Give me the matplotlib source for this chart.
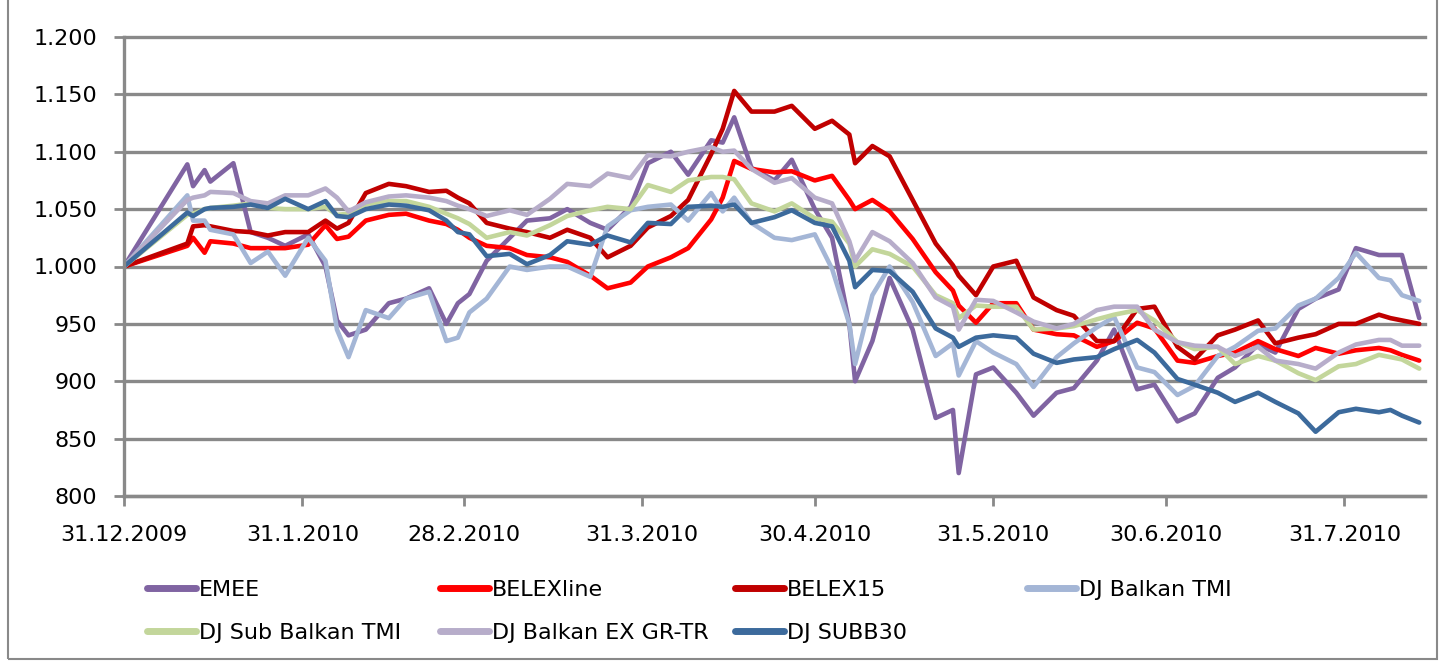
import matplotlib
matplotlib.use('Agg')
import matplotlib.pyplot as plt
import numpy as np
from matplotlib.lines import Line2D
from matplotlib.patches import Rectangle
from matplotlib.ticker import FuncFormatter

# trading days, as offsets from 31.12.2009
start = np.datetime64("2009-12-31")
day_offsets = [0, 11, 12, 14, 15, 19, 22, 25, 28, 32, 35, 37, 39, 42, 46, 49, 53, 56, 58, 60,
               63, 67, 70, 74, 77, 81, 84, 88, 91, 95, 98, 102, 104, 106, 109, 113, 116, 120, 123, 126,
               127, 130, 133, 137, 141, 144, 145, 148, 151, 155, 158, 162, 165, 169, 172, 176, 179, 183, 186, 190,
               193, 197, 200, 204, 207, 211, 214, 218, 220, 222, 225]

emee = [1000, 1089, 1070, 1084, 1074, 1090, 1030, 1025, 1018, 1028, 1000, 953, 940, 945, 968, 972, 981, 950, 968, 976,
        1005, 1025, 1040, 1042, 1050, 1038, 1032, 1052, 1090, 1100, 1080, 1110, 1108, 1130, 1086, 1075, 1093, 1050, 1025, 950,
        900, 935, 990, 945, 868, 875, 820, 906, 912, 890, 870, 890, 894, 918, 945, 893, 897, 865, 872, 903,
        912, 932, 925, 963, 972, 980, 1016, 1010, 1010, 1010, 955]
belexline = [1000, 1018, 1025, 1012, 1022, 1020, 1016, 1016, 1016, 1019, 1036, 1024, 1026, 1040, 1045, 1046, 1040, 1037, 1032, 1025,
             1018, 1016, 1010, 1008, 1004, 992, 981, 986, 1000, 1008, 1016, 1041, 1060, 1092, 1085, 1082, 1083, 1075, 1079, 1058,
             1050, 1058, 1048, 1024, 995, 979, 966, 951, 968, 968, 945, 941, 940, 930, 935, 951, 946, 918, 916, 922,
             925, 935, 928, 922, 929, 924, 927, 929, 927, 923, 918]
belex15 = [1000, 1020, 1035, 1036, 1035, 1031, 1030, 1027, 1030, 1030, 1040, 1033, 1038, 1064, 1072, 1070, 1065, 1066, 1060, 1055,
           1038, 1033, 1030, 1025, 1032, 1025, 1008, 1018, 1034, 1044, 1058, 1098, 1120, 1153, 1135, 1135, 1140, 1120, 1127, 1115,
           1090, 1105, 1096, 1058, 1020, 1001, 992, 975, 1000, 1005, 973, 962, 957, 935, 935, 963, 965, 930, 919, 940,
           945, 953, 933, 938, 941, 950, 950, 958, 955, 953, 950]
dj_balkan = [1000, 1062, 1040, 1040, 1032, 1028, 1003, 1013, 992, 1025, 1005, 945, 921, 962, 955, 972, 978, 935, 938, 960,
             972, 1000, 997, 1000, 1000, 991, 1035, 1049, 1052, 1054, 1040, 1064, 1048, 1060, 1038, 1025, 1023, 1028, 998, 950,
             915, 975, 1000, 969, 922, 933, 905, 935, 925, 915, 895, 921, 933, 947, 956, 912, 908, 888, 896, 922,
             930, 944, 946, 966, 972, 990, 1012, 990, 988, 975, 970]
dj_sub_balkan = [1000, 1045, 1046, 1050, 1051, 1053, 1055, 1051, 1050, 1050, 1052, 1045, 1046, 1054, 1057, 1057, 1052, 1046, 1042, 1037,
                 1025, 1030, 1027, 1036, 1044, 1049, 1052, 1050, 1071, 1065, 1075, 1078, 1078, 1076, 1055, 1048, 1055, 1042, 1039, 1020,
                 1000, 1015, 1011, 1000, 975, 968, 955, 966, 965, 965, 945, 946, 948, 954, 958, 962, 953, 934, 928, 930,
                 915, 922, 918, 907, 901, 913, 915, 923, 921, 919, 911]
dj_balkan_ex = [1000, 1058, 1060, 1062, 1065, 1064, 1057, 1055, 1062, 1062, 1068, 1060, 1048, 1056, 1061, 1062, 1060, 1057, 1053, 1050,
                1044, 1049, 1045, 1059, 1072, 1070, 1081, 1077, 1097, 1096, 1100, 1104, 1100, 1101, 1085, 1073, 1077, 1060, 1055, 1022,
                1005, 1030, 1022, 1003, 973, 965, 945, 971, 970, 960, 952, 946, 950, 962, 965, 965, 945, 934, 931, 930,
                922, 930, 918, 915, 911, 925, 932, 936, 936, 931, 931]
dj_subb30 = [1000, 1047, 1044, 1050, 1051, 1052, 1054, 1051, 1059, 1050, 1057, 1044, 1043, 1050, 1054, 1053, 1049, 1040, 1030, 1028,
             1009, 1011, 1002, 1010, 1022, 1019, 1027, 1021, 1038, 1037, 1052, 1053, 1052, 1054, 1038, 1043, 1049, 1038, 1035, 1005,
             982, 997, 996, 978, 946, 938, 930, 938, 940, 938, 924, 916, 919, 921, 928, 936, 925, 902, 897, 890,
             882, 890, 882, 872, 856, 873, 876, 873, 875, 870, 864]

series_names = ["EMEE", "BELEXline", "BELEX15", "DJ Balkan TMI",
                "DJ Sub Balkan TMI", "DJ Balkan EX GR-TR", "DJ SUBB30"]
series_values = [emee, belexline, belex15, dj_balkan, dj_sub_balkan, dj_balkan_ex, dj_subb30]
colors = ["#8064a2", "#ff0000", "#c00000", "#a4b6d6", "#c3d69b", "#b7adca", "#3c6a9c"]

tick_dates = ["2009-12-31", "2010-01-31", "2010-02-28", "2010-03-31",
              "2010-04-30", "2010-05-31", "2010-06-30", "2010-07-31"]
tick_labels = ["31.12.2009", "31.1.2010", "28.2.2010", "31.3.2010",
               "30.4.2010", "31.5.2010", "30.6.2010", "31.7.2010"]

W, H = 1441, 661
grey = "#898989"
dates = start + np.array(day_offsets).astype("timedelta64[D]")

fig = plt.figure(figsize=(W / 100, H / 100), dpi=100)
ax = fig.add_axes([124 / W, 1 - 496 / H, (1425 - 124) / W, (496 - 37) / H])

for name, vals, color in zip(series_names, series_values, colors):
    ax.plot(dates, vals, color=color, lw=3.3, solid_joinstyle="round", solid_capstyle="round", label=name)

ax.set_xlim(start, start + np.timedelta64(226, "D"))
ax.set_ylim(800, 1200)
ax.set_xticks(np.array(tick_dates, dtype="datetime64[D]"))
ax.set_xticklabels(tick_labels)
ax.set_yticks(np.arange(800, 1201, 50))
ax.yaxis.set_major_formatter(FuncFormatter(lambda v, p: f"{v:,.0f}".replace(",", ".")))

ax.yaxis.grid(True, color=grey, lw=2.4)
ax.set_axisbelow(True)
for gl in ax.get_ygridlines():
    gl.set_clip_on(False)
for side in ["top", "right"]:
    ax.spines[side].set_visible(False)
for side in ["left", "bottom"]:
    ax.spines[side].set_color(grey)
    ax.spines[side].set_linewidth(2.4)
ax.tick_params(axis="both", direction="out", length=7, width=2, color=grey,
               labelsize=16, labelcolor="black")
ax.tick_params(axis="y", pad=12)
ax.tick_params(axis="x", pad=14)

# legend laid out like Excel: row-major, evenly spaced columns
col_x = [147, 440, 735, 1027]
row_y = [590, 633]
for i, (name, color) in enumerate(zip(series_names, colors)):
    h = Line2D([], [], color=color, lw=5, solid_capstyle="round")
    leg = fig.legend(handles=[h], labels=[name], loc="center left",
                     bbox_to_anchor=(col_x[i % 4] / W, 1 - row_y[i // 4] / H),
                     frameon=False, borderpad=0, borderaxespad=0,
                     handlelength=2.2, handletextpad=0.15, fontsize=16)

fig.add_artist(Rectangle((8 / W, 2 / H), (1437 - 8) / W, 1.0, transform=fig.transFigure,
                         fill=False, edgecolor=grey, lw=1.5))

fig.savefig("out.png", dpi=100)
plt.close()
